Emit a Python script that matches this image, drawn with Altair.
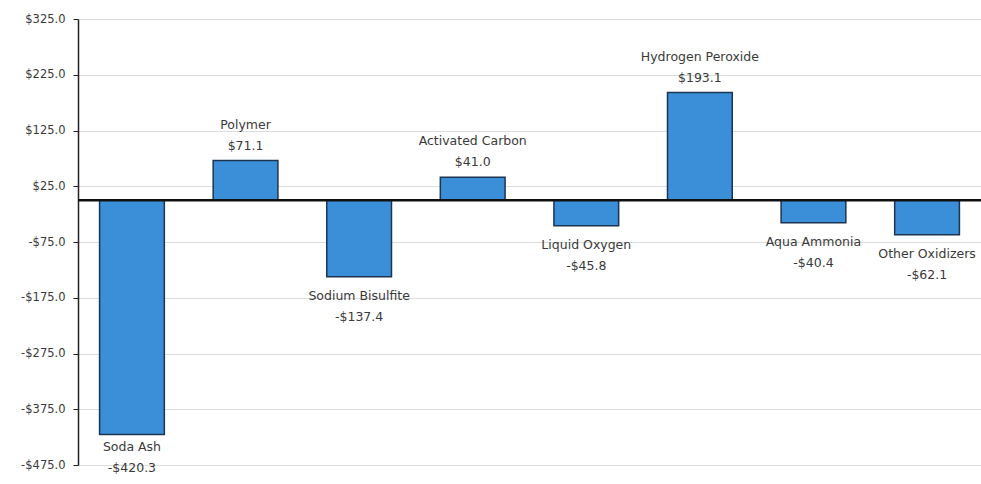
import altair as alt
import pandas as pd

categories = ["Soda Ash", "Polymer", "Sodium Bisulfite", "Activated Carbon",
              "Liquid Oxygen", "Hydrogen Peroxide", "Aqua Ammonia", "Other Oxidizers"]
values = [-420.3, 71.1, -137.4, 41.0, -45.8, 193.1, -40.4, -62.1]
y_ticks = [325, 225, 125, 25, -75, -175, -275, -375, -475]

df = pd.DataFrame({"category": categories, "value": values})

FONT = "DejaVu Sans"
TXT = "#3a3a3a"
FS = 12.5

x = alt.X("category:N", sort=categories, axis=None,
          scale=alt.Scale(paddingInner=0.43, paddingOuter=0.19))
yscale = alt.Scale(domain=[-475, 325], nice=False, zero=False)

base = alt.Chart(df).transform_calculate(
    vlabel="(datum.value < 0 ? '-' : '') + '$' + format(abs(datum.value), '.1f')",
    ly="max(datum.value, -408)"
)

bars = base.mark_bar(color="#3b8fd9", stroke="#1d3550", strokeWidth=1.5).encode(
    x=x,
    y=alt.Y("value:Q", scale=yscale, title=None,
            axis=alt.Axis(values=y_ticks, grid=True, gridColor="#dcdcdc", gridWidth=1,
                          domainColor="#222222", domainWidth=1.5, tickColor="#222222",
                          tickSize=5, labelFont=FONT, labelFontSize=11.5, labelColor=TXT,
                          labelPadding=8,
                          labelExpr="(datum.value < 0 ? '-' : '') + '$' + format(abs(datum.value), '.1f')")),
    y2=alt.datum(0),
)

zero = alt.Chart(pd.DataFrame({"z": [0]})).mark_rule(color="#111111", strokeWidth=2.5).encode(
    y=alt.Y("z:Q", scale=yscale)
)

pos = base.transform_filter("datum.value >= 0")
neg = base.transform_filter("datum.value < 0")

pos_name = pos.mark_text(font=FONT, fontSize=FS, color=TXT, dy=-36, baseline="middle").encode(
    x=x, y=alt.Y("value:Q", scale=yscale), text="category:N")
pos_val = pos.mark_text(font=FONT, fontSize=FS, color=TXT, dy=-15, baseline="middle").encode(
    x=x, y=alt.Y("value:Q", scale=yscale), text="vlabel:N")
neg_name = neg.mark_text(font=FONT, fontSize=FS, color=TXT, dy=19, baseline="middle").encode(
    x=x, y=alt.Y("ly:Q", scale=yscale), text="category:N")
neg_val = neg.mark_text(font=FONT, fontSize=FS, color=TXT, dy=40, baseline="middle").encode(
    x=x, y=alt.Y("ly:Q", scale=yscale), text="vlabel:N")

chart = alt.layer(bars, zero, pos_name, pos_val, neg_name, neg_val).properties(
    width=903, height=446,
    autosize=alt.AutoSizeParams(type="none"),
    padding={"left": 78, "top": 19, "right": 0, "bottom": 19},
).configure_view(stroke=None).configure(background="white")

chart.save("out.html", embed_options={"renderer": "svg", "actions": False})
